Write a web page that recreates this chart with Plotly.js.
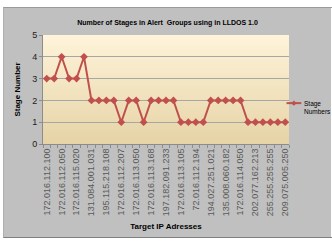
<!DOCTYPE html>
<html><head><meta charset="utf-8">
<script src="https://cdn.plot.ly/plotly-3.0.1.min.js"></script>
<style>
html,body{margin:0;padding:0;background:#fff;width:332px;height:249px;overflow:hidden}
#chart{position:absolute;left:3px;top:7px;width:329px;height:231px;border-top:1px solid #9a9a9a;border-left:1px solid #b0b0b0;border-bottom:1px solid #808080;box-sizing:border-box}
</style></head>
<body><div id="chart"></div>
<script>
const targetIPs = [
 "172.016.112.100","","172.016.112.050","","172.016.115.020","","131.084.001.031","",
 "195.115.218.108","","172.016.112.207","","172.016.113.050","","172.016.113.168","",
 "197.182.091.233","","172.016.113.105","","72.016.112.194","","194.027.251.021","",
 "135.008.060.182","","172.016.114.050","","202.077.162.213","","255.255.255.255","",
 "209.075.005.250"
];
const stageNumbers = [3,3,4,3,3,4,2,2,2,2,1,2,2,1,2,2,2,2,1,1,1,1,2,2,2,2,2,1,1,1,1,1,1];
const seriesName = "Stage<br>Numbers";
const yTicks = [0,1,2,3,4,5];

const idx = targetIPs.map((_, i) => i);
const labelIdx = idx.filter(i => targetIPs[i] !== "");
const grad = 'data:image/svg+xml;utf8,' + encodeURIComponent(
 '<svg xmlns="http://www.w3.org/2000/svg" width="10" height="100" preserveAspectRatio="none"><defs><linearGradient id="g" x1="0" y1="0" x2="0" y2="1"><stop offset="0" stop-color="#fff4da"/><stop offset="1" stop-color="#e6d3a6"/></linearGradient></defs><rect width="10" height="100" fill="url(#g)"/></svg>');

const RED = '#c0504d';
const boldFont = 'Liberation Sans Narrow, Liberation Sans, sans-serif';
// legend sample (style only, paper coords)
const lgY = 0.375;
const shapes = [
  {type: 'line', xref: 'paper', yref: 'paper', x0: 0.99, x1: 1.05, y0: lgY, y1: lgY, line: {color: RED, width: 2}},
  {type: 'path', xref: 'paper', yref: 'paper', path: 'M1.02,' + (lgY + 0.025) + ' L1.031,' + lgY + ' L1.02,' + (lgY - 0.025) + ' L1.009,' + lgY + ' Z', fillcolor: RED, line: {width: 0}}
];

Plotly.newPlot('chart', [{
  x: idx, y: stageNumbers, type: 'scatter', mode: 'lines+markers', name: seriesName,
  line: {color: RED, width: 2},
  marker: {symbol: 'diamond', size: 6, color: RED},
  showlegend: false
}], {
  width: 327, height: 229,
  paper_bgcolor: '#c0c0c0', plot_bgcolor: 'rgba(0,0,0,0)',
  margin: {l: 39, r: 42, t: 27, b: 93},
  font: {family: 'Liberation Sans, Arial, sans-serif', size: 9, color: '#404040'},
  title: {text: 'Number of Stages in Alert  Groups using in LLDOS 1.0',
    font: {family: boldFont, size: 7, color: '#000', weight: 'bold'},
    x: 0.5, xanchor: 'center', y: 0.935, yanchor: 'middle'},
  images: [{source: grad, xref: 'paper', yref: 'paper', x: 0, y: 1, sizex: 1, sizey: 1,
    xanchor: 'left', yanchor: 'top', sizing: 'stretch', layer: 'below'}],
  shapes: shapes,
  annotations: [{xref: 'paper', yref: 'paper', x: 1.056, y: lgY + 0.04, xanchor: 'left', yanchor: 'top',
    text: seriesName, showarrow: false, align: 'left', borderpad: 0,
    font: {family: boldFont, size: 6.5, color: '#000'}}],
  xaxis: {range: [-0.5, 32.5], tickmode: 'array', tickvals: labelIdx, ticktext: labelIdx.map(i => targetIPs[i]),
    tickangle: -90, ticks: '', showgrid: false, zeroline: false,
    showline: true, linecolor: '#8c8c8c', linewidth: 1,
    tickfont: {size: 9, color: '#595959'},
    minor: {tickmode: 'linear', tick0: -0.5, dtick: 1, ticks: 'outside', ticklen: 3, tickcolor: '#8c8c8c', showgrid: false},
    title: {text: 'Target IP Adresses', standoff: 8,
      font: {family: boldFont, size: 8, color: '#000', weight: 'bold'}}},
  yaxis: {range: [0, 5], tickmode: 'array', tickvals: yTicks, ticks: 'outside', ticklen: 3, tickcolor: '#8c8c8c',
    showgrid: true, gridcolor: '#a6a6a6', gridwidth: 1, zeroline: false,
    showline: true, linecolor: '#8c8c8c', linewidth: 1,
    tickfont: {size: 9, color: '#202020'},
    title: {text: 'Stage Number', standoff: 10,
      font: {family: boldFont, size: 8, color: '#000', weight: 'bold'}}},
  showlegend: false
}, {displayModeBar: false, staticPlot: true});
</script></body></html>
